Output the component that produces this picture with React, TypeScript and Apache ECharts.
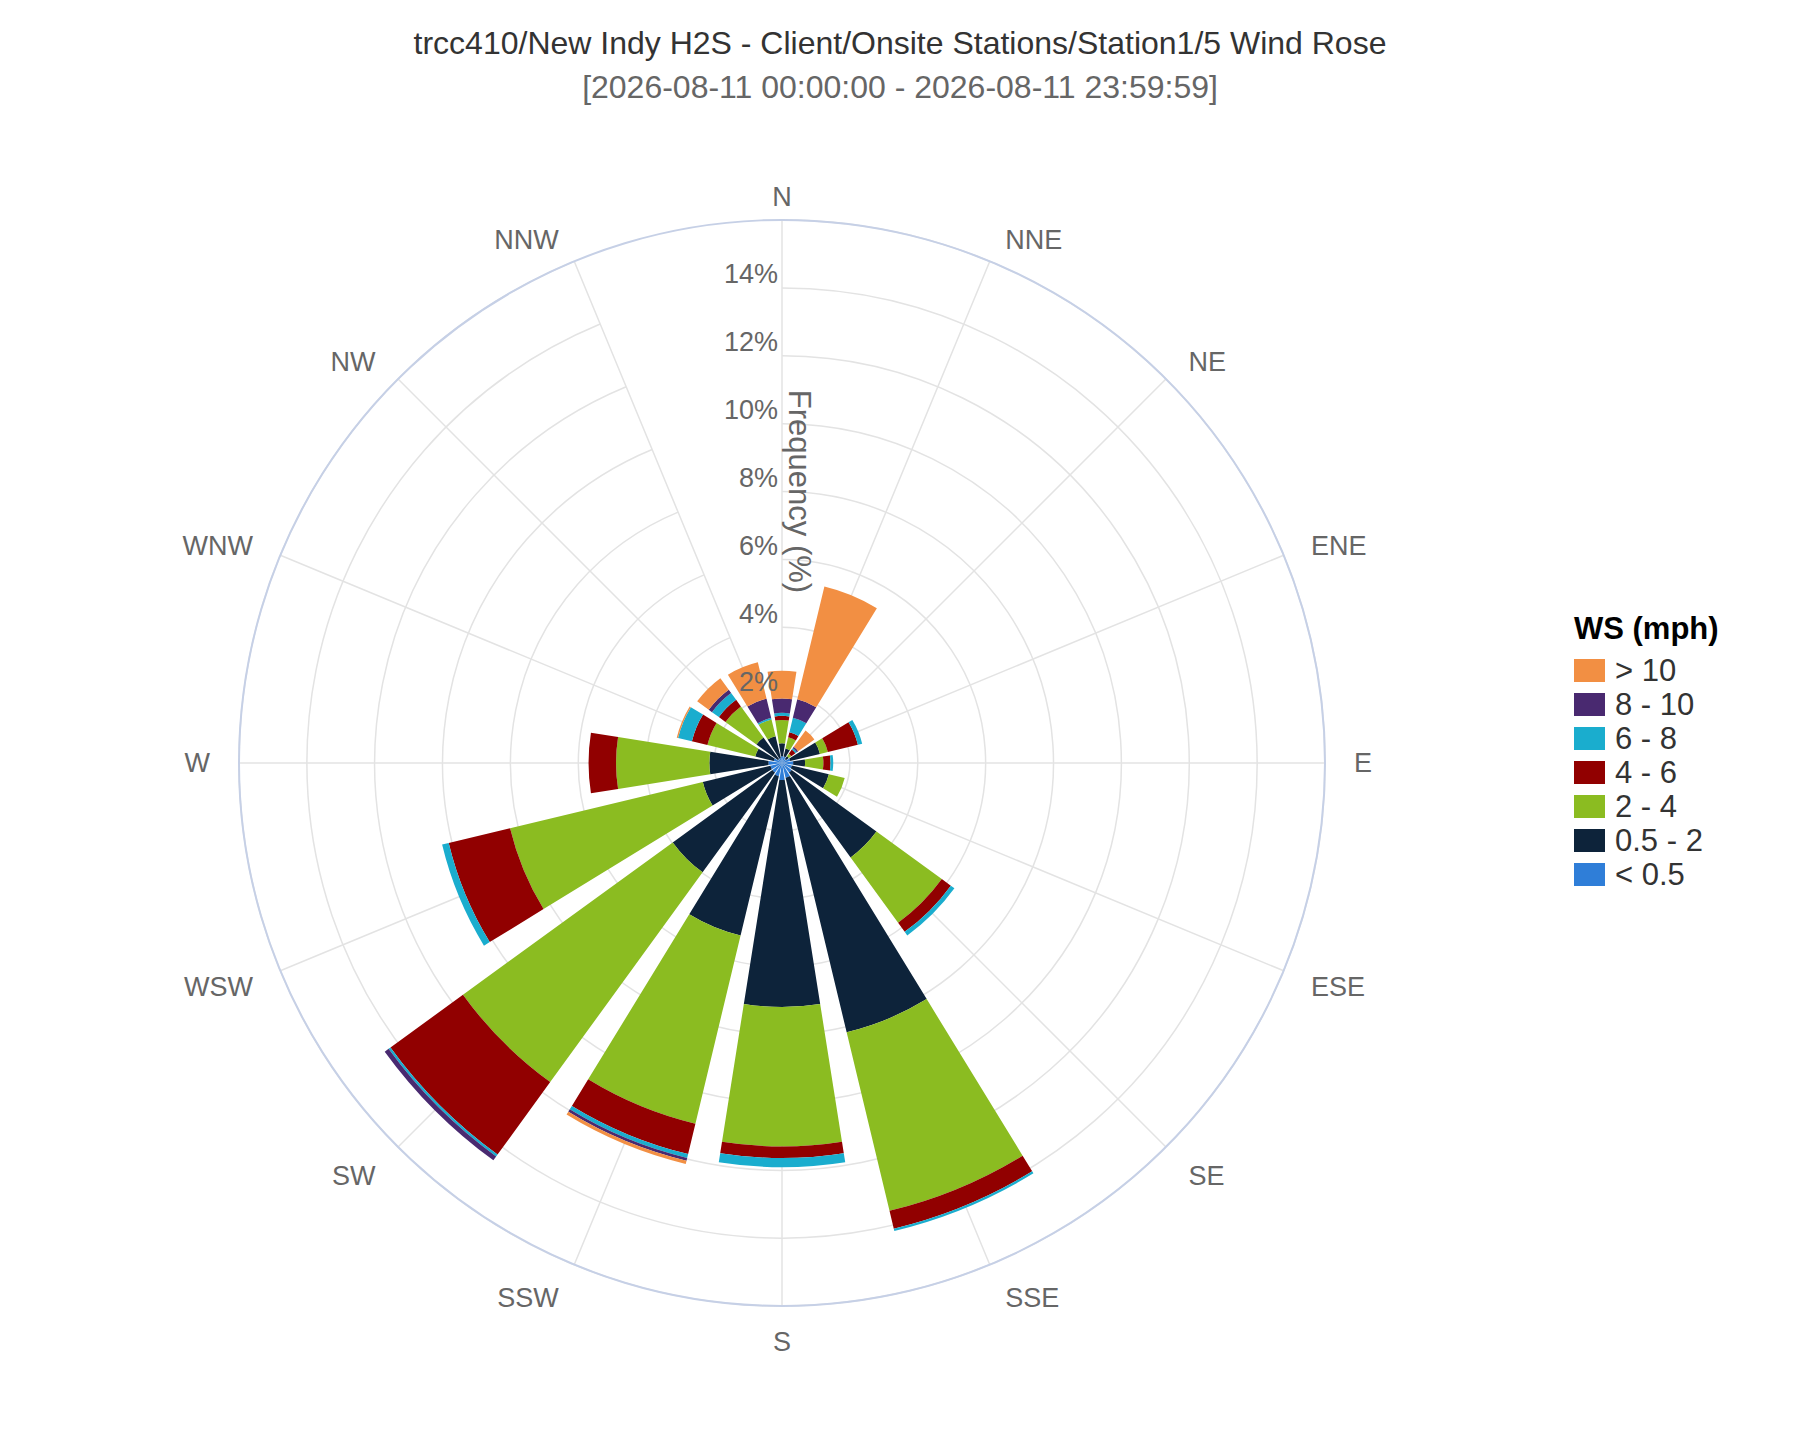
import React, { useEffect, useRef } from 'react';
import * as echarts from 'echarts';

const titleText = 'trcc410/New Indy H2S - Client/Onsite Stations/Station1/5 Wind Rose';
const subtitleText = '[2026-08-11 00:00:00 - 2026-08-11 23:59:59]';
const legendTitle = 'WS (mph)';
const radiusName = 'Frequency (%)';

const directions = ['N', 'NNE', 'NE', 'ENE', 'E', 'ESE', 'SE', 'SSE', 'S', 'SSW', 'SW', 'WSW', 'W', 'WNW', 'NW', 'NNW'];
const speedBins = ['< 0.5', '0.5 - 2', '2 - 4', '4 - 6', '6 - 8', '8 - 10', '> 10'];
const binColors = ['#2f7ed8', '#0d233a', '#8bbc21', '#910000', '#1aadce', '#492970', '#f28f43'];

// frequency (%) per direction, in order of `directions`
const freqBelow05 = [0.2, 0.2, 0.15, 0.25, 0.33, 0.3, 0.35, 0.45, 0.5, 0.4, 0.35, 0.35, 0.4, 0.25, 0.15, 0.15];
const freq05to2 = [0.38, 0.24, 0.1, 0.9, 0.35, 1.12, 3.09, 7.71, 6.69, 4.83, 3.63, 2.05, 1.74, 0.56, 0.78, 0.66];
const freq2to4 = [0.69, 0.34, 0.09, 0.24, 0.54, 0.48, 2.38, 5.41, 4.11, 5.7, 7.64, 5.84, 2.75, 1.45, 1.13, 0.51];
const freq4to6 = [0.12, 0.15, 0.15, 0.91, 0.21, 0, 0.33, 0.54, 0.34, 0.92, 2.64, 1.86, 0.81, 0.47, 0.24, 0];
const freq6to8 = [0.09, 0.44, 0.05, 0.13, 0.08, 0, 0.13, 0.07, 0.27, 0.12, 0.07, 0.2, 0, 0.42, 0.25, 0.05];
const freq8to10 = [0.42, 0.56, 0.05, 0, 0, 0, 0, 0, 0, 0.08, 0.14, 0, 0, 0, 0.12, 0.58];
const freqAbove10 = [0.82, 3.42, 0.59, 0, 0, 0, 0, 0, 0, 0.1, 0, 0, 0, 0.04, 0.42, 1.1];

const binValues = [freqBelow05, freq05to2, freq2to4, freq4to6, freq6to8, freq8to10, freqAbove10];

const radiusMax = 16;
const radiusStep = 2;

const FONT = "'Liberation Sans', Arial, Helvetica, sans-serif";

export default function App() {
  const ref = useRef<HTMLDivElement>(null);

  useEffect(() => {
    document.body.style.margin = '0';
    const chart = echarts.init(ref.current as HTMLDivElement, null, { renderer: 'svg' });

    const upper = new Set(['N', 'NNE', 'NE', 'ENE', 'WNW', 'NW', 'NNW']);
    const diagonalLow = new Set(['ESE', 'WSW']);
    const rightSide = new Set(['NNE', 'NE', 'ENE', 'E', 'ESE', 'SE', 'SSE']);
    const leftSide = new Set(['SSW', 'SW', 'WSW', 'W', 'WNW', 'NW', 'NNW']);
    const angleData = directions.map((d) => ({
      value: d,
      textStyle: {
        lineHeight: upper.has(d) ? 2 : diagonalLow.has(d) ? 16 : 27,
        padding: rightSide.has(d) ? [0, 0, 0, 7] : leftSide.has(d) ? [0, 7, 0, 0] : 0,
      },
    }));

    const series = speedBins.map((name, i) => ({
      name,
      type: 'bar',
      coordinateSystem: 'polar',
      polarIndex: 0,
      stack: 'ws',
      data: binValues[i],
      barCategoryGap: '20%',
      itemStyle: { color: binColors[i] },
      z: 2,
    }));

    chart.setOption({
      animation: false,
      backgroundColor: '#ffffff',
      textStyle: { fontFamily: FONT },
      title: [
        {
          text: titleText,
          subtext: subtitleText,
          left: 'center',
          top: 27,
          padding: 0,
          itemGap: 12,
          textStyle: { fontSize: 32, fontWeight: 'normal', color: '#333333', fontFamily: FONT },
          subtextStyle: { fontSize: 32, color: '#666666', fontFamily: FONT },
        },
        {
          text: legendTitle,
          left: 1574,
          top: 613,
          padding: 0,
          textStyle: { fontSize: 31, fontWeight: 'bold', color: '#000000', fontFamily: FONT },
        },
      ],
      legend: {
        orient: 'vertical',
        left: 1574,
        top: 655,
        padding: 0,
        itemWidth: 31,
        itemHeight: 23,
        itemGap: 3,
        icon: 'rect',
        data: [...speedBins].reverse(),
        textStyle: { fontSize: 31, color: '#333333', fontFamily: FONT, padding: [0, 0, 0, 5] },
      },
      polar: [
        { center: [782, 763], radius: 543 },
        { center: [782, 763], radius: 543 },
      ],
      angleAxis: [
        {
          polarIndex: 0,
          type: 'category',
          data: angleData,
          boundaryGap: false,
          startAngle: 90,
          clockwise: true,
          axisLine: { show: false },
          axisTick: { show: false, interval: 0 },
          axisLabel: { show: true, interval: 0, margin: 22, fontSize: 27, color: '#666666', fontFamily: FONT },
          splitLine: { show: true, interval: 0, lineStyle: { color: '#e3e3e3', width: 1.5 } },
          z: 0,
        },
        {
          polarIndex: 1,
          type: 'value',
          min: 0,
          max: 360,
          startAngle: 90,
          axisLine: { show: true, lineStyle: { color: '#c6d0e6', width: 2 } },
          axisTick: { show: false },
          axisLabel: { show: false },
          splitLine: { show: false },
          z: 10,
        },
      ],
      radiusAxis: [
        {
          polarIndex: 0,
          type: 'value',
          min: 0,
          max: radiusMax,
          interval: radiusStep,
          angle: 90,
          axisLine: { show: false },
          axisTick: { show: false },
          axisLabel: { show: false },
          splitLine: { show: true, lineStyle: { color: '#e3e3e3', width: 1.5 } },
          z: 0,
        },
        {
          polarIndex: 1,
          type: 'value',
          min: 0,
          max: radiusMax,
          interval: radiusStep,
          angle: 90,
          z: 10,
          axisLine: { show: false },
          axisTick: { show: false },
          splitLine: { show: false },
          axisLabel: {
            show: true,
            margin: 4,
            fontSize: 27,
            color: '#666666',
            fontFamily: FONT,
            verticalAlign: 'bottom',
            formatter: (v: number) => (v === 0 || v === radiusMax ? '' : `${v}%`),
          },
          name: radiusName,
          nameLocation: 'middle',
          nameRotate: -90,
          nameGap: 2,
          nameTextStyle: { fontSize: 31, color: '#666666', fontFamily: FONT },
        },
      ],
      series,
    });

    return () => chart.dispose();
  }, []);

  return <div ref={ref} style={{ width: 1800, height: 1440 }} />;
}
